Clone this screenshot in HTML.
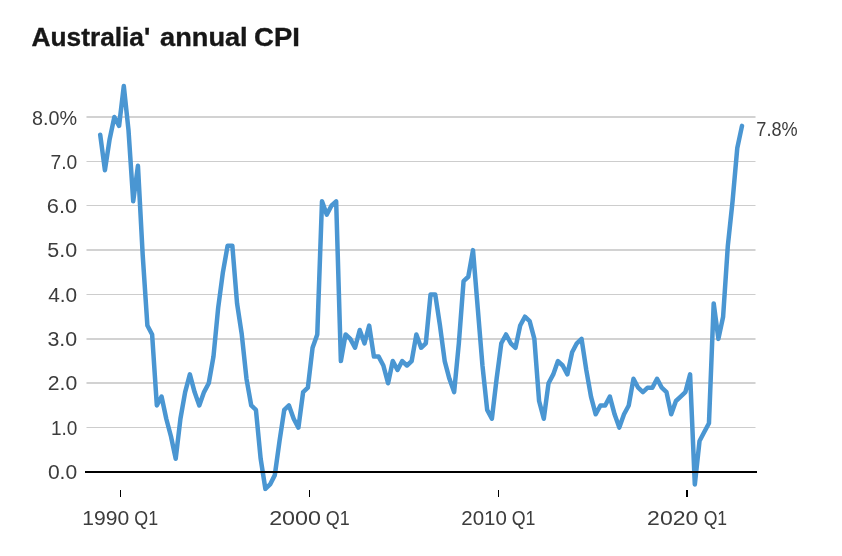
<!DOCTYPE html>
<html><head><meta charset="utf-8"><title>Australia' annual CPI</title>
<style>
html,body{margin:0;padding:0;background:#fff;}
body{width:842px;height:556px;overflow:hidden;position:relative;font-family:"Liberation Sans",sans-serif;}
svg{position:absolute;left:0;top:0;}
svg text{font-family:"Liberation Sans",sans-serif;font-size:20.0px;fill:#3c3c3c;}
svg text.ttl{font-size:26px;font-weight:bold;fill:#171717;stroke:#171717;stroke-width:0.35px;}
</style></head><body>
<svg width="842" height="556" viewBox="0 0 842 556">
<rect x="86.5" y="427" width="669" height="1" fill="#cdcdcd"/><rect x="86.5" y="382" width="669" height="2" fill="#d2d2d2"/><rect x="86.5" y="338" width="669" height="2" fill="#d2d2d2"/><rect x="86.5" y="294" width="669" height="1" fill="#cdcdcd"/><rect x="86.5" y="249" width="669" height="2" fill="#d2d2d2"/><rect x="86.5" y="205" width="669" height="1" fill="#cdcdcd"/><rect x="86.5" y="161" width="669" height="1" fill="#cdcdcd"/><rect x="86.5" y="116" width="669" height="2" fill="#d2d2d2"/>
<text y="478.80"><tspan x="47.92" textLength="29.23" lengthAdjust="spacingAndGlyphs">0.0</tspan></text><text y="434.53"><tspan x="50.96" textLength="26.44" lengthAdjust="spacingAndGlyphs">1.0</tspan></text><text y="390.25"><tspan x="47.72" textLength="29.46" lengthAdjust="spacingAndGlyphs">2.0</tspan></text><text y="345.98"><tspan x="47.40" textLength="29.75" lengthAdjust="spacingAndGlyphs">3.0</tspan></text><text y="301.70"><tspan x="48.20" textLength="28.89" lengthAdjust="spacingAndGlyphs">4.0</tspan></text><text y="257.43"><tspan x="47.36" textLength="29.84" lengthAdjust="spacingAndGlyphs">5.0</tspan></text><text y="213.15"><tspan x="46.88" textLength="30.31" lengthAdjust="spacingAndGlyphs">6.0</tspan></text><text y="168.88"><tspan x="50.58" textLength="26.74" lengthAdjust="spacingAndGlyphs">7.0</tspan></text><text y="124.60"><tspan x="32.11" textLength="45.06" lengthAdjust="spacingAndGlyphs">8.0%</tspan></text>
<rect x="120" y="490" width="1" height="7" fill="#000"/><rect x="309" y="490" width="1" height="7" fill="#000"/><rect x="498" y="490" width="1" height="7" fill="#000"/><rect x="686" y="490" width="2" height="7" fill="#000"/>
<text y="524.7"><tspan x="82.28" textLength="46.94" lengthAdjust="spacingAndGlyphs">1990</tspan> <tspan x="134.29" textLength="23.85" lengthAdjust="spacingAndGlyphs">Q1</tspan></text><text y="524.7"><tspan x="269.15" textLength="51.92" lengthAdjust="spacingAndGlyphs">2000</tspan> <tspan x="325.86" textLength="23.96" lengthAdjust="spacingAndGlyphs">Q1</tspan></text><text y="524.7"><tspan x="461.34" textLength="45.59" lengthAdjust="spacingAndGlyphs">2010</tspan> <tspan x="511.75" textLength="23.71" lengthAdjust="spacingAndGlyphs">Q1</tspan></text><text y="524.7"><tspan x="647.10" textLength="51.26" lengthAdjust="spacingAndGlyphs">2020</tspan> <tspan x="703.67" textLength="23.51" lengthAdjust="spacingAndGlyphs">Q1</tspan></text>
<polyline points="100.20,134.75 104.92,170.25 109.64,139.19 114.36,117.00 119.08,125.88 123.80,85.94 128.51,130.31 133.23,201.31 137.95,165.81 142.67,254.56 147.39,325.56 152.11,334.44 156.83,405.44 161.55,396.56 166.27,418.75 170.99,436.50 175.71,458.69 180.43,418.75 185.14,392.12 189.86,374.38 194.58,392.12 199.30,405.44 204.02,392.12 208.74,383.25 213.46,356.62 218.18,307.81 222.90,272.31 227.62,245.69 232.34,245.69 237.05,303.38 241.77,334.44 246.49,378.81 251.21,405.44 255.93,409.88 260.65,458.69 265.37,488.86 270.09,484.43 274.81,475.11 279.53,440.94 284.25,409.88 288.96,405.44 293.68,418.75 298.40,427.62 303.12,392.12 307.84,387.69 312.56,347.75 317.28,334.44 322.00,201.31 326.72,214.62 331.44,205.75 336.16,201.31 340.88,361.06 345.59,334.44 350.31,338.88 355.03,347.75 359.75,330.00 364.47,343.31 369.19,325.56 373.91,356.62 378.63,356.62 383.35,365.50 388.07,383.25 392.79,361.06 397.50,369.94 402.22,361.06 406.94,365.50 411.66,361.06 416.38,334.44 421.10,347.75 425.82,343.31 430.54,294.50 435.26,294.50 439.98,325.56 444.70,361.06 449.41,378.81 454.13,392.12 458.85,343.31 463.57,281.19 468.29,276.75 473.01,250.12 477.73,307.81 482.45,365.50 487.17,409.88 491.89,418.75 496.61,378.81 501.32,343.31 506.04,334.44 510.76,343.31 515.48,347.75 520.20,325.56 524.92,316.69 529.64,321.12 534.36,338.88 539.08,401.00 543.80,418.75 548.52,383.25 553.24,374.38 557.95,361.06 562.67,365.50 567.39,374.38 572.11,352.19 576.83,343.31 581.55,338.88 586.27,369.94 590.99,396.56 595.71,414.31 600.43,405.44 605.15,405.44 609.86,396.56 614.58,414.31 619.30,427.62 624.02,414.31 628.74,405.44 633.46,378.81 638.18,387.69 642.90,392.12 647.62,387.69 652.34,387.69 657.06,378.81 661.77,387.69 666.49,392.12 671.21,414.31 675.93,401.00 680.65,396.56 685.37,392.12 690.09,374.38 694.81,484.43 699.53,440.94 704.25,432.06 708.97,423.19 713.69,303.38 718.40,338.88 723.12,316.69 727.84,245.69 732.56,201.31 737.28,148.06 742.00,125.88" fill="none" stroke="#4a96d2" stroke-width="4.5" stroke-linejoin="round" stroke-linecap="round"/>
<rect x="85" y="471" width="672" height="2" fill="#000"/>
<text y="136.4"><tspan x="756.37" textLength="41.32" lengthAdjust="spacingAndGlyphs">7.8%</tspan></text>
<text class="ttl" y="45.6"><tspan x="31.50" textLength="118.74" lengthAdjust="spacingAndGlyphs">Australia'</tspan> <tspan x="160.09" textLength="87.58" lengthAdjust="spacingAndGlyphs">annual</tspan> <tspan x="254.11" textLength="45.70" lengthAdjust="spacingAndGlyphs">CPI</tspan></text>
</svg>
</body></html>
